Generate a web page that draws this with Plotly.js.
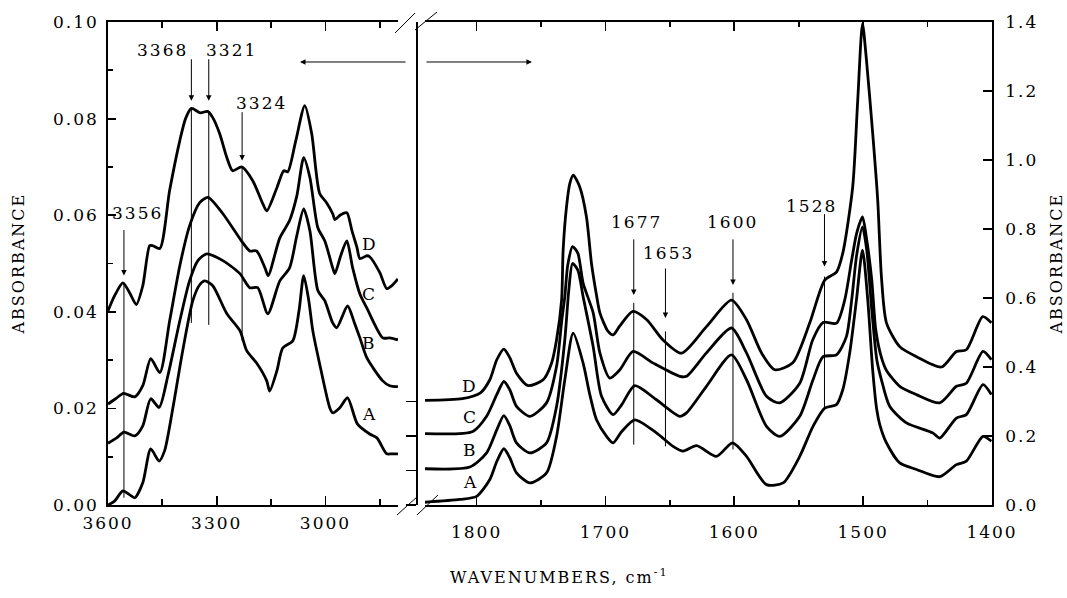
<!DOCTYPE html>
<html>
<head>
<meta charset="utf-8">
<script src="https://cdn.plot.ly/plotly-3.0.1.min.js"></script>
<style>
  html, body { margin: 0; padding: 0; background: #fff; }
  #chart { width: 1067px; height: 598px; }
  svg text { letter-spacing: 2px; }
</style>
</head>
<body>
<div id="chart"></div>
<script>
// ---------- Left panel (3600-2800 cm-1) ----------
const wnD_L = [3600,3582,3559,3540,3522,3504,3485,3477,3457,3430,3402,3386,3370,3345,3325,3311,3292,3272,3256,3231,3201,3173,3162,3134,3115,3104,3082,3057,3038,3016,2997,2980,2974,2958,2941,2927,2913,2905,2886,2878,2850,2831,2817,2800];
const absD_L = [0.0402,0.0433,0.0460,0.0439,0.0415,0.0454,0.0537,0.0537,0.0531,0.0651,0.0754,0.0800,0.0821,0.0812,0.0815,0.0802,0.0769,0.0719,0.0692,0.0700,0.0672,0.0624,0.0609,0.0657,0.0692,0.0690,0.0754,0.0827,0.0769,0.0645,0.0626,0.0603,0.0591,0.0601,0.0605,0.0568,0.0533,0.0510,0.0516,0.0514,0.0481,0.0448,0.0454,0.0468];

const wnC_L = [3600,3579,3557,3526,3504,3482,3457,3430,3402,3375,3347,3324,3283,3232,3209,3190,3167,3158,3126,3099,3079,3060,3043,3021,3002,2980,2974,2958,2941,2925,2905,2886,2842,2823,2800];
const absC_L = [0.0209,0.0220,0.0231,0.0224,0.0247,0.0303,0.0274,0.0381,0.0495,0.0578,0.0626,0.0637,0.0603,0.0547,0.0526,0.0526,0.0491,0.0475,0.0553,0.0589,0.0640,0.0719,0.0678,0.0574,0.0547,0.0491,0.0479,0.0516,0.0547,0.0491,0.0437,0.0408,0.0346,0.0346,0.0342];

const wnB_L = [3600,3576,3556,3526,3504,3482,3459,3435,3402,3375,3352,3328,3283,3236,3209,3187,3159,3126,3099,3079,3060,3043,3021,3002,2980,2969,2939,2920,2905,2886,2842,2823,2800];
const absB_L = [0.0128,0.0139,0.0151,0.0143,0.0164,0.0220,0.0202,0.0267,0.0381,0.0464,0.0506,0.0520,0.0506,0.0479,0.0450,0.0450,0.0396,0.0464,0.0491,0.0558,0.0613,0.0568,0.0444,0.0423,0.0377,0.0367,0.0412,0.0377,0.0346,0.0305,0.0257,0.0247,0.0245];

const wnA_L = [3600,3582,3559,3540,3526,3504,3482,3459,3444,3421,3394,3366,3347,3333,3311,3272,3236,3217,3190,3162,3154,3134,3118,3090,3073,3060,3046,3035,3016,2988,2980,2961,2939,2912,2878,2858,2831,2817,2800];
const absA_L = [0.0,0.0008,0.0029,0.0021,0.0015,0.0046,0.0116,0.0091,0.0112,0.0201,0.0319,0.0423,0.0456,0.0464,0.0454,0.0396,0.0361,0.0319,0.0294,0.0257,0.0236,0.0278,0.0325,0.0340,0.0402,0.0475,0.0423,0.0361,0.0292,0.0201,0.0191,0.0201,0.0222,0.0168,0.0147,0.0139,0.0106,0.0106,0.0106];

// ---------- Right panel (1840-1400 cm-1) ----------
const wnD_R = [1840,1811,1797,1789.7,1784.3,1778.8,1774.2,1769,1760,1748.3,1741.8,1737.9,1734,1732.8,1730.2,1727.6,1725,1719.9,1714.7,1710.8,1707,1704.3,1697.9,1694,1688.8,1678.7,1667.9,1655.5,1641,1621.6,1602.2,1590.5,1578.9,1568.6,1554.6,1541.4,1529.8,1520.7,1515.8,1508.1,1504.2,1500.5,1497.4,1492.6,1488.7,1485.8,1481.9,1471.6,1458.6,1439.2,1427.6,1419.9,1407.2,1400.5];
const absD_R = [0.303,0.308,0.325,0.363,0.421,0.452,0.427,0.382,0.346,0.363,0.411,0.479,0.594,0.739,0.864,0.932,0.956,0.922,0.835,0.700,0.610,0.557,0.503,0.493,0.519,0.561,0.537,0.479,0.440,0.517,0.594,0.537,0.441,0.392,0.412,0.528,0.652,0.675,0.730,0.922,1.173,1.395,1.289,1.078,0.884,0.661,0.528,0.459,0.430,0.400,0.445,0.450,0.546,0.528];

const wnC_R = [1840,1802.9,1792.2,1784.3,1778.8,1774.2,1769,1758.6,1745.7,1737.9,1733.8,1731.5,1729.2,1725.5,1721.4,1717.3,1709.5,1704.3,1696.6,1688.8,1678.5,1663.2,1642.3,1637.1,1621.6,1602.2,1590.5,1575,1564.7,1549.2,1539.1,1531.1,1520.7,1514.3,1508.9,1505,1500.5,1497.2,1493.3,1490.2,1486,1481.9,1471.6,1458.6,1440.6,1427.6,1419.9,1407,1400.5];
const absC_R = [0.207,0.213,0.257,0.320,0.358,0.334,0.286,0.257,0.296,0.402,0.537,0.604,0.696,0.749,0.730,0.643,0.557,0.441,0.368,0.392,0.445,0.412,0.373,0.373,0.441,0.513,0.441,0.315,0.296,0.353,0.479,0.529,0.527,0.594,0.710,0.788,0.835,0.768,0.652,0.508,0.430,0.390,0.344,0.320,0.296,0.344,0.353,0.445,0.421];

const wnB_R = [1840,1805.2,1792.2,1784.3,1778.8,1774.2,1769,1758.6,1745.7,1737.9,1731.5,1728.4,1725.5,1721.4,1717.3,1709.5,1703,1694,1687.3,1677.2,1660.4,1642.3,1637.1,1621.6,1602.2,1590.5,1575,1564.7,1549.2,1538.9,1531.1,1520.7,1513,1508.9,1505,1500.5,1497.2,1493.3,1489.4,1485.8,1479.4,1466.4,1446,1440.6,1427.6,1419.9,1407,1400.5];
const absB_R = [0.105,0.110,0.151,0.218,0.259,0.230,0.180,0.151,0.180,0.286,0.479,0.623,0.700,0.681,0.604,0.459,0.315,0.262,0.291,0.346,0.305,0.257,0.267,0.344,0.435,0.363,0.228,0.199,0.257,0.363,0.430,0.435,0.488,0.594,0.725,0.806,0.739,0.566,0.421,0.363,0.286,0.238,0.209,0.194,0.252,0.262,0.349,0.320];

const wnA_R = [1840,1812.9,1800,1789.7,1784.3,1778.8,1774.2,1769,1758.6,1745.7,1737.9,1731.5,1725,1717.3,1712.1,1706.9,1699.1,1694,1687.3,1677.2,1660.4,1647.5,1639.7,1629.3,1613.8,1601.4,1590.5,1575,1562.1,1549.2,1538.9,1529.8,1520.7,1515.8,1510.4,1505.2,1500.5,1496.4,1492.6,1489.4,1487.1,1481.9,1471.6,1458.6,1440.6,1427.6,1419.9,1407,1400.5];
const absA_R = [0.008,0.016,0.025,0.074,0.126,0.163,0.137,0.093,0.064,0.093,0.199,0.363,0.498,0.411,0.320,0.247,0.199,0.180,0.213,0.247,0.209,0.170,0.156,0.172,0.141,0.180,0.141,0.059,0.064,0.141,0.228,0.281,0.291,0.334,0.441,0.594,0.739,0.594,0.392,0.276,0.233,0.180,0.122,0.103,0.082,0.117,0.127,0.199,0.185];

// Curve names and label positions
const curveNames = ['D','C','B','A'];
const curveLabelX_L = 2878;
const curveLabelY_L = [0.0541,0.0437,0.0335,0.0189];
const curveLabelX_R = 1804.7;
const curveLabelY_R = [0.346,0.255,0.158,0.0657];
const baselineTicks_R = [0.0,0.1,0.2,0.3];

// Band markers
const leftBandX = [3556,3370,3322,3230];
const leftBandLabel = ['3356','3368','3321','3324'];
const leftLabelX = [3518,3449,3259,3176];
const leftLabelY = [0.0605,0.0943,0.0943,0.0833];
const leftArrowTip = [0.0475,0.0837,0.0837,0.0713];
const leftArrowLen = [47,43,43,50];
const leftLineTop = [0.046,0.0821,0.0812,0.070];
const leftLineBottom = [0.0015,0.0377,0.0373,0.034];

const rightBandX = [1678,1653.4,1601,1530];
const rightBandLabel = ['1677','1653','1600','1528'];
const rightLabelX = [1675.6,1650.8,1601,1539.9];
const rightLabelY = [0.821,0.730,0.821,0.866];
const rightArrowTip = [0.609,0.542,0.638,0.691];
const rightArrowLen = [57,51,47,54];
const rightLineTop = [0.586,0.503,0.615,0.662];
const rightLineBottom = [0.175,0.170,0.161,0.276];

// ---------- Build ----------
const FONT = 'DejaVu Serif, serif';
const lineStyle = {color:'#000', width:2.8, shape:'spline', smoothing:0.7};

const traces = [];
[[wnD_L,absD_L],[wnC_L,absC_L],[wnB_L,absB_L],[wnA_L,absA_L]].forEach(function(p,i){
  traces.push({x:p[0], y:p[1], type:'scatter', mode:'lines', line:lineStyle, xaxis:'x', yaxis:'y', name:curveNames[i], showlegend:false});
});
[[wnD_R,absD_R],[wnC_R,absC_R],[wnB_R,absB_R],[wnA_R,absA_R]].forEach(function(p,i){
  traces.push({x:p[0], y:p[1], type:'scatter', mode:'lines', line:lineStyle, xaxis:'x2', yaxis:'y2', name:curveNames[i], showlegend:false});
});

const annotations = [];
const shapes = [];
const tf = {family:FONT, size:17, color:'#000'};

curveNames.forEach(function(n,i){
  annotations.push({x:curveLabelX_L, y:curveLabelY_L[i], xref:'x', yref:'y', text:n, showarrow:false, font:tf});
  annotations.push({x:curveLabelX_R, y:curveLabelY_R[i], xref:'x2', yref:'y2', text:n, showarrow:false, font:tf});
});

function addBands(bx, lab, lx, ly, tip, len, top, bot, xr, yr){
  for (let i=0;i<bx.length;i++){
    annotations.push({x:lx[i], y:ly[i], xref:xr, yref:yr, text:lab[i], showarrow:false, font:tf});
    annotations.push({x:bx[i], y:tip[i], xref:xr, yref:yr, text:'', showarrow:true,
      ax:0, ay:-len[i], arrowhead:2, arrowsize:1.1, arrowwidth:1, arrowcolor:'#000', standoff:0, startstandoff:0});
    shapes.push({type:'line', xref:xr, yref:yr, x0:bx[i], x1:bx[i], y0:bot[i], y1:top[i], line:{color:'#000', width:1}});
  }
}
addBands(leftBandX,leftBandLabel,leftLabelX,leftLabelY,leftArrowTip,leftArrowLen,leftLineTop,leftLineBottom,'x','y');
addBands(rightBandX,rightBandLabel,rightLabelX,rightLabelY,rightArrowTip,rightArrowLen,rightLineTop,rightLineBottom,'x2','y2');

// direction arrows at top
annotations.push({x:0.2172, y:0.9172, xref:'paper', yref:'paper', text:'', showarrow:true, ax:107, ay:0,
  arrowhead:2, arrowsize:1.1, arrowwidth:1, arrowcolor:'#000'});
annotations.push({x:0.4796, y:0.9172, xref:'paper', yref:'paper', text:'', showarrow:true, ax:-107, ay:0,
  arrowhead:2, arrowsize:1.1, arrowwidth:1, arrowcolor:'#000'});

// axis titles
const titleFont = {family:FONT,size:16,color:'#000'};
annotations.push({x:-0.1018, y:0.5, xref:'paper', yref:'paper', xanchor:'center', yanchor:'middle', text:'ABSORBANCE', textangle:-90, showarrow:false, font:titleFont});
annotations.push({x:1.0735, y:0.5, xref:'paper', yref:'paper', xanchor:'center', yanchor:'middle', text:'ABSORBANCE', textangle:-90, showarrow:false, font:titleFont});
annotations.push({x:0.5113, y:-0.148, xref:'paper', yref:'paper', xanchor:'center', yanchor:'middle', text:'WAVENUMBERS, cm<sup>-1</sup>', showarrow:false, font:titleFont});

// axis break slashes
const brk = {color:'#000', width:1};
shapes.push({type:'line', xref:'paper', yref:'paper', x0:0.3247, y0:0.9772, x1:0.3473, y1:1.0186, line:brk});
shapes.push({type:'line', xref:'paper', yref:'paper', x0:0.3473, y0:0.9834, x1:0.3722, y1:1.0207, line:brk});
shapes.push({type:'line', xref:'paper', yref:'paper', x0:0.3269, y0:-0.0207, x1:0.3495, y1:0.0166, line:brk});
shapes.push({type:'line', xref:'paper', yref:'paper', x0:0.3495, y0:-0.0207, x1:0.3733, y1:0.0207, line:brk});

const axFont = {family:FONT, size:17, color:'#000'};
const layout = {
  width:1067, height:598,
  margin:{l:108, r:75, t:22, b:93},
  paper_bgcolor:'#fff', plot_bgcolor:'#fff',
  showlegend:false,
  xaxis:{domain:[0,0.328], range:[3600,2800], anchor:'y', showline:true, linecolor:'#000', linewidth:1.8,
    mirror:'ticks', ticks:'inside', ticklen:9, tickwidth:1.8, tickcolor:'#000', dtick:300, tick0:0,
    minor:{dtick:150, ticks:'inside', ticklen:6, tickwidth:1.8, tickcolor:'#000', showgrid:false},
    showgrid:false, zeroline:false, tickfont:axFont, ticklabelstandoff:2},
  xaxis2:{domain:[0.3586,1], range:[1840,1400], anchor:'y2', showline:true, linecolor:'#000', linewidth:1.8,
    mirror:'ticks', ticks:'inside', ticklen:9, tickwidth:1.8, tickcolor:'#000', dtick:100, tick0:0,
    minor:{dtick:50, ticks:'inside', ticklen:5, tickwidth:1.8, tickcolor:'#000', showgrid:false},
    showgrid:false, zeroline:false, tickfont:axFont, ticklabelstandoff:11},
  yaxis:{domain:[0,1], range:[0,0.10], anchor:'x', showline:true, linecolor:'#000', linewidth:1.8,
    ticks:'inside', ticklen:8, tickwidth:1.8, tickcolor:'#000', dtick:0.02, tick0:0, tickformat:'.2f',
    minor:{dtick:0.01, ticks:'inside', ticklen:5, tickwidth:1.8, tickcolor:'#000', showgrid:false},
    showgrid:false, zeroline:false, tickfont:axFont, ticklabelstandoff:4},
  yaxis2:{domain:[0,1], range:[0,1.4], anchor:'x2', side:'right', showline:true, linecolor:'#000', linewidth:1.8,
    ticks:'inside', ticklen:9, tickwidth:1.8, tickcolor:'#000', dtick:0.2, tick0:0, tickformat:'.1f',
    showgrid:false, zeroline:false, tickfont:axFont, ticklabelstandoff:8},
  yaxis3:{domain:[0,1], range:[0,1.4], overlaying:'y2', anchor:'free', position:0.3484, side:'left',
    showline:true, linecolor:'#000', linewidth:1.8, ticks:'outside', ticklen:10, tickwidth:1.8, tickcolor:'#000',
    tickmode:'array', tickvals:baselineTicks_R, showticklabels:false, showgrid:false, zeroline:false},
  annotations:annotations,
  shapes:shapes
};

// invisible placeholder so the baseline-marker axis (yaxis3) is drawn
traces.push({x:[1840], y:[0], xaxis:'x2', yaxis:'y3', type:'scatter', mode:'none', showlegend:false, hoverinfo:'skip'});

Plotly.newPlot('chart', traces, layout, {displayModeBar:false, staticPlot:true});
</script>
</body>
</html>
